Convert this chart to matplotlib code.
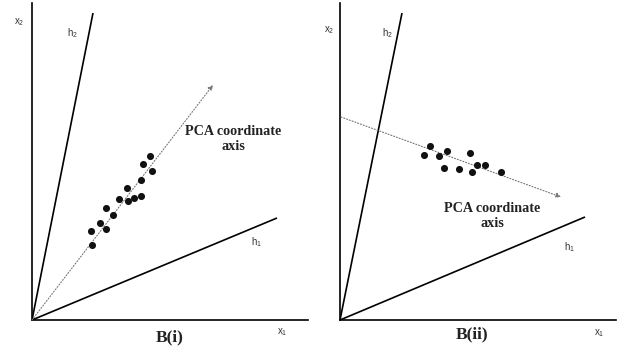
import matplotlib
matplotlib.use("Agg")
import matplotlib.pyplot as plt
import numpy as np

plt.rcParams['mathtext.default'] = 'regular'

# Panel B(i) data (units relative to panel origin)
h1_end_i = (245, 102)
h2_end_i = (61, 307)
pca_start_i = (0, 0)
pca_end_i = (181, 235)
pts_i_x = [118, 111, 120, 109, 95, 87, 96, 102, 109, 74, 81, 68, 59, 74, 60]
pts_i_y = [164, 156, 149, 140, 132, 121, 119, 122, 124, 112, 105, 97, 89, 91, 75]

# Panel B(ii) data
h1_end_ii = (245, 103)
h2_end_ii = (62, 307)
pca_start_ii = (1, 203)
pca_end_ii = (221, 123)
pts_ii_x = [90, 84, 99, 107, 130, 104, 119, 132, 137, 145, 161]
pts_ii_y = [174, 165, 164, 169, 167, 152, 151, 148, 155, 155, 148]

titles = ["B(i)", "B(ii)"]

W, H = 618, 352
fig = plt.figure(figsize=(W/100, H/100), dpi=100)

serif = ['Liberation Serif', 'DejaVu Serif']

def panel(x0, title, h1e, h2e, ps, pe, px, py, pca_text_pos, title_pos,
          lab_pos):
    ax = fig.add_axes([x0 / W, (H - 320) / H, 276 / W, 317 / H])
    ax.set_xlim(0, 276)
    ax.set_ylim(0, 317)
    for s in ['top', 'right']:
        ax.spines[s].set_visible(False)
    for s in ['left', 'bottom']:
        ax.spines[s].set_linewidth(1.2)
    ax.set_xticks([])
    ax.set_yticks([])
    ax.patch.set_alpha(0)
    ax.plot([0, h1e[0]], [0, h1e[1]], color='black', lw=1.2, solid_capstyle='butt')
    ax.plot([0, h2e[0]], [0, h2e[1]], color='black', lw=1.2, solid_capstyle='butt')
    ax.annotate('', xy=pe, xytext=ps,
                arrowprops=dict(arrowstyle='-|>', color='#777777', lw=0.8,
                                linestyle=':', mutation_scale=7,
                                shrinkA=0, shrinkB=0))
    ax.scatter(px, py, s=26, color='#111111', zorder=3, linewidths=0)
    ax.text(pca_text_pos[0], pca_text_pos[1], 'PCA coordinate\naxis',
            ha='center', va='center', fontsize=10.2, fontweight='bold',
            family=serif, color='#222222', linespacing=1.2)
    ax.text(title_pos[0], title_pos[1], title, ha='center', va='center',
            fontsize=12.5, fontweight='bold', family=serif, color='#222222',
            clip_on=False)
    for txt, pos in zip(['x$_2$', 'h$_2$', 'h$_1$', 'x$_1$'], lab_pos):
        ax.text(pos[0], pos[1], txt, ha='center', va='center', fontsize=7,
                family=['Liberation Sans', 'DejaVu Sans'], color='#333333',
                clip_on=False)
    return ax

panel(32, titles[0], h1_end_i, h2_end_i, pca_start_i, pca_end_i,
      pts_i_x, pts_i_y, (201, 181), (138, -17),
      [(-13, 298), (40, 287), (225, 78), (250, -12)])
panel(340, titles[1], h1_end_ii, h2_end_ii, pca_start_ii, pca_end_ii,
      pts_ii_x, pts_ii_y, (152, 104), (132, -14),
      [(-11, 290), (47, 287), (230, 73), (259, -13)])

fig.savefig('out.png', dpi=100)
